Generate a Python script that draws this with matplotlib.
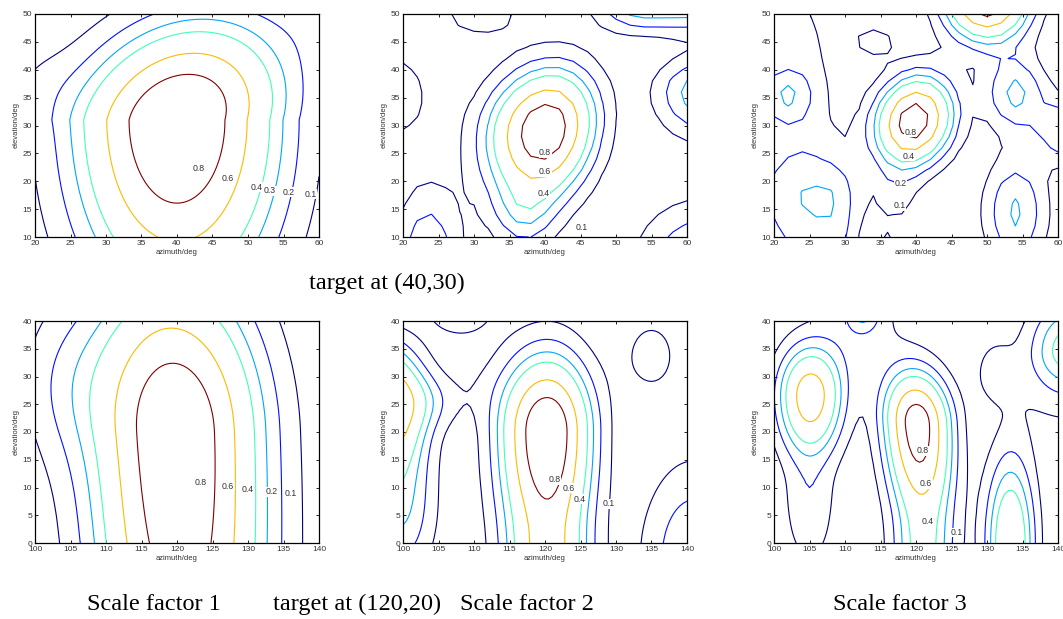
import numpy as np
import matplotlib
matplotlib.use("Agg")
import matplotlib.pyplot as plt

# ---------------- data ----------------
levels = [0.1, 0.2, 0.3, 0.4, 0.6, 0.8]

# azimuth / elevation ranges of the two rows
az_top = [20, 60]
el_top = [10, 50]
az_bot = [100, 140]
el_bot = [0, 40]

# normalised response surfaces, described as sums of lobes:
# (azimuth, elevation, amplitude, width_left, width_right, width_down, width_up,
#  tilt_below, tilt_above)
lobes_1 = [(40, 31, 1.03, 9.5, 9.5, 21, 11.5, 0.0, 0.2),
           (64, 52, 0.15, 5, 5, 6, 6, 0, 0),
           (20, 38, 0.05, 4, 4, 5, 5, 0, 0)]
lobes_2 = [(40, 29.2, 0.98, 5.3, 4.6, 8.2, 7.3, 0.1, 0.1),
           (37, 14, 0.2, 3, 3, 5, 4, 0, 0),
           (54, 51.5, 0.38, 4.6, 30, 3.3, 3.3, 0, 0),
           (61.5, 36, 0.36, 4.0, 4.5, 5.5, 4.3, 0, 0),
           (19, 35.5, 0.14, 4.3, 4.3, 7.3, 7.3, 0, 0),
           (23.5, 6.3, 0.3, 3.2, 3.2, 8.5, 8.5, 0, 0),
           (62, 6, 0.32, 6, 6, 7, 7, 0, 0),
           (31, 50, 0.16, 4.1, 4.1, 3.1, 3.1, 0, 0)]
lobes_3 = [(39.7, 30.8, 0.95, 3.6, 3.6, 5.4, 5.4, 0.1, 0.1),
           (37, 17, 0.13, 2.2, 2.2, 4, 4, 0, 0),
           (50, 53, 1.0, 4.0, 4.0, 5.2, 5.2, 0, 0),
           (34.2, 45.2, 0.13, 2.5, 2.5, 2.5, 2.5, 0, 0),
           (23, 32, 0.15, 6, 4.5, 12, 24, 0, 0),
           (21.8, 35.5, 0.19, 2.3, 2.3, 3, 3, 0, 0),
           (28.3, 16, 0.28, 8, 2.6, 12, 6, 0, 0),
           (54, 35.8, 0.33, 3.0, 3.0, 4.6, 4.6, 0, 0),
           (61.5, 29, 0.32, 3, 3, 4, 4, 0, 0),
           (54, 14.5, 0.32, 3.1, 3.1, 7, 7, 0, 0),
           (35.9, 8.5, 0.11, 1.2, 1.2, 2, 2, 0, 0)]
lobes_4 = [(119.8, 20, 1.0, 8.0, 8.2, 50, 18.5, -0.03, -0.03),
           (104, 29, 0.12, 5, 5, 10, 10, 0, 0)]
lobes_5 = [(120.3, 20, 1.0, 4.5, 4.2, 17, 9.3, 0, 0),
           (120.5, -6, 0.35, 4, 4, 6, 6, 0, 0),
           (98, 25, 0.75, 4, 3.6, 8, 6.5, 0, 0),
           (103.5, 25.5, 0.12, 4, 3.5, 3.5, 3.5, 0, 0),
           (96, 33, 0.15, 3, 3, 4, 4, 0, 0),
           (99.5, 6, 0.3, 3.5, 3.5, 9, 9, 0, 0),
           (110, 29, 0.035, 3, 3, 4, 4, 0, 0),
           (108, 46, 0.3, 3.4, 3.4, 5.3, 5, 0, 0),
           (135, 33.9, 0.13, 3.4, 3.4, 6, 6, 0, 0),
           (141, -3, 0.3, 5, 5, 12, 12, 0, 0)]
lobes_6 = [(120.2, 21.5, 0.92, 3.2, 3.2, 13, 6.5, -0.048, -0.048),
           (120.8, -4, 0.3, 3, 3, 6, 6, 0, 0),
           (105.1, 26.5, 0.72, 3.15, 3.15, 7.5, 6.3, 0, 0),
           (105, 6, 0.17, 2.6, 2.6, 8, 6, 0, 0),
           (112.5, 42, 0.22, 1.5, 1.5, 2.5, 2.5, 0, 0),
           (112.5, 41, 0.15, 4.0, 4.0, 7.5, 5, 0, 0),
           (131, 30.9, 0.13, 2.07, 2.07, 4.3, 4.3, 0, 0),
           (141.5, 35, 0.35, 3.5, 3.5, 4.5, 6, 0, 0),
           (141, 30, 0.14, 5, 5, 8, 10, 0, 0),
           (133.3, 0, 0.58, 2.4, 2.4, 11, 11, 0, 0)]

# contour label values and where they sit (azimuth, elevation)
labels_1 = [(0.8, 43.1, 22.3), (0.6, 47.2, 20.5), (0.4, 51.2, 18.9),
            (0.3, 53.1, 18.3), (0.2, 55.7, 18.0), (0.1, 58.8, 17.7)]
labels_2 = [(0.8, 40.0, 25.1), (0.6, 40.0, 21.7), (0.4, 39.8, 17.8), (0.1, 45.2, 11.7)]
labels_3 = [(0.8, 39.25, 28.8), (0.4, 39.0, 24.5), (0.2, 37.8, 19.6), (0.1, 37.7, 15.6)]
labels_4 = [(0.8, 123.4, 10.9), (0.6, 127.2, 10.2), (0.4, 130.0, 9.7),
            (0.2, 133.3, 9.2), (0.1, 136.0, 8.9)]
labels_5 = [(0.8, 121.3, 11.4), (0.6, 123.3, 9.9), (0.4, 124.9, 7.9), (0.1, 129.0, 7.1)]
labels_6 = [(0.8, 121.0, 16.6), (0.6, 121.4, 10.7), (0.4, 121.6, 3.8), (0.1, 125.8, 1.9)]

grid_step = [0.5, 2.0, 2.0, 0.5, 0.5, 0.5]

captions = [("target at (40,30)", 387, 283),
            ("Scale factor 1", 154, 604),
            ("target at (120,20)", 357, 604),
            ("Scale factor 2", 527, 604),
            ("Scale factor 3", 900, 604)]


def surface(az, el, lobes):
    A, E = np.meshgrid(az, el)
    Z = np.zeros_like(A)
    for (x0, y0, amp, sl, sr, sd, su, tb, ta) in lobes:
        tilt = np.where(E < y0, tb, ta)
        xc = x0 + tilt * (E - y0)
        sx = np.where(A < xc, sl, sr)
        sy = np.where(E < y0, sd, su)
        Z += amp * np.exp(-0.5 * ((A - xc) / sx) ** 2 - 0.5 * ((E - y0) / sy) ** 2)
    return A, E, Z


W, H = 1063, 619
fig = plt.figure(figsize=(W / 100, H / 100), dpi=100)

col_left = [35, 403, 774]
ax_w = 284
row_top = [14, 321]
ax_h = [223, 222]

panels = [(lobes_1, labels_1, az_top, el_top), (lobes_2, labels_2, az_top, el_top),
          (lobes_3, labels_3, az_top, el_top), (lobes_4, labels_4, az_bot, el_bot),
          (lobes_5, labels_5, az_bot, el_bot), (lobes_6, labels_6, az_bot, el_bot)]

for i, (lobes, labs, azr, elr) in enumerate(panels):
    r, c = divmod(i, 3)
    left = col_left[c] / W
    bottom = 1 - (row_top[r] + ax_h[r]) / H
    ax = fig.add_axes([left, bottom, ax_w / W, ax_h[r] / H])
    step = grid_step[i]
    az = np.arange(azr[0], azr[1] + step / 2, step)
    el = np.arange(elr[0], elr[1] + step / 2, step)
    A, E, Z = surface(az, el, lobes)
    ax.contour(A, E, Z, levels=levels, cmap="jet", linewidths=0.8)
    for (v, x, y) in labs:
        ax.text(x, y, f"{v:g}", fontsize=6.3, color="#333333",
                ha="center", va="center", family="Liberation Sans",
                bbox=dict(facecolor="white", edgecolor="none", pad=0.3))
    ax.set_xlim(azr)
    ax.set_ylim(elr)
    ax.set_xticks(np.arange(azr[0], azr[1] + 1, 5))
    ax.set_yticks(np.arange(elr[0], elr[1] + 1, 5))
    ax.tick_params(direction="in", length=2.5, width=0.6, labelsize=6,
                   top=True, right=True, pad=2, colors="black")
    for lab in ax.get_xticklabels() + ax.get_yticklabels():
        lab.set_family("Liberation Sans")
        lab.set_color("#333333")
    ax.set_xlabel("azimuth/deg", fontsize=5.5, family="Liberation Sans",
                  labelpad=1.5, color="#333333")
    ax.set_ylabel("elevation/deg", fontsize=5.5, family="Liberation Sans",
                  labelpad=2, color="#333333")
    for s in ax.spines.values():
        s.set_linewidth(0.9)

for (txt, x, y) in captions:
    fig.text(x / W, 1 - y / H, txt, fontsize=17.5, family="Liberation Serif",
             ha="center", va="center")

fig.savefig("out.png", dpi=100)
